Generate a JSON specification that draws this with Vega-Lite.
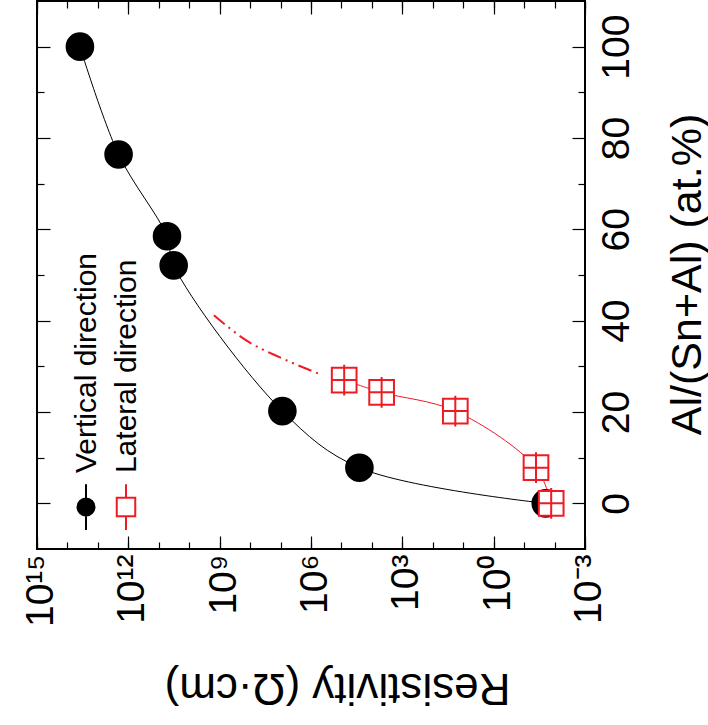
{
  "$schema": "https://vega.github.io/schema/vega-lite/v6.json",
  "autosize": "none",
  "width": 548,
  "height": 548,
  "padding": {"left": 37, "top": 1, "right": 123, "bottom": 176},
  "background": "white",
  "config": {
    "font": "Liberation Sans",
    "view": {"stroke": "black", "strokeWidth": 2},
    "axis": {"grid": false, "domain": false, "ticks": true, "tickColor": "black", "tickWidth": 1.2, "labelColor": "black", "titleColor": "black", "labelFlush": false, "labelOverlap": false},
    "legend": {"labelFont": "Liberation Sans", "labelColor": "black"}
  },
  "datasets": {
    "measured": [
      {"series": "Vertical direction", "al": 100, "rho": 3.89e13},
      {"series": "Vertical direction", "al": 76.4, "rho": 2.09e12},
      {"series": "Vertical direction", "al": 58.5, "rho": 5.37e10},
      {"series": "Vertical direction", "al": 52.1, "rho": 3.24e10},
      {"series": "Vertical direction", "al": 20.2, "rho": 8.71e6},
      {"series": "Vertical direction", "al": 7.8, "rho": 2.57e4},
      {"series": "Vertical direction", "al": 0, "rho": 0.0195},
      {"series": "Lateral direction", "al": 27.0, "rho": 8.13e4},
      {"series": "Lateral direction", "al": 24.3, "rho": 4.79e3},
      {"series": "Lateral direction", "al": 20.2, "rho": 18.2},
      {"series": "Lateral direction", "al": 7.8, "rho": 0.0407},
      {"series": "Lateral direction", "al": 0, "rho": 0.0129}
    ],
    "lateralTrend": [
      {"al": 41.2, "rho": 1.55e9},
      {"al": 35.4, "rho": 1.15e8},
      {"al": 31.9, "rho": 1.0e7},
      {"al": 28.3, "rho": 5.13e5}
    ]
  },
  "resolve": {"axis": {"x": "independent", "y": "independent"}},
  "layer": [
    {
      "data": {"name": "measured"},
      "transform": [{"filter": "datum.series === 'Vertical direction'"}],
      "mark": {"type": "line", "interpolate": "catmull-rom", "color": "black", "strokeWidth": 1},
      "encoding": {
        "x": {
          "field": "rho", "type": "quantitative",
          "scale": {"type": "log", "domain": [0.001, 1e15], "reverse": true, "nice": false},
          "axis": {
            "orient": "bottom",
            "offset": -13,
            "values": [1e15, 1e12, 1e9, 1e6, 1000, 1, 0.001],
            "tickSize": 13,
            "labelExpr": "datum.value > 1e14 ? '10¹⁵' : datum.value > 1e11 ? '10¹²' : datum.value > 1e8 ? '10⁹' : datum.value > 1e5 ? '10⁶' : datum.value > 100 ? '10³' : datum.value > 0.1 ? '10⁰' : '10⁻³'",
            "labelAngle": 270,
            "labelAlign": "right",
            "labelBaseline": "middle",
            "labelFontSize": 39,
            "labelPadding": 5,
            "labelOffset": 3.5,
            "title": "Resistivity (Ω·cm)",
            "titleFontSize": 44,
            "titleFontWeight": "normal",
            "titleAngle": 180,
            "titleAlign": "center",
            "titleBaseline": "alphabetic",
            "titleX": 300,
            "titleY": 137
          }
        },
        "y": {
          "field": "al", "type": "quantitative",
          "scale": {"domain": [-10, 110], "nice": false, "zero": false},
          "axis": {
            "orient": "right",
            "offset": -13,
            "values": [0, 20, 40, 60, 80, 100],
            "tickSize": 13,
            "labelAngle": 270,
            "labelAlign": "center",
            "labelBaseline": "top",
            "labelFontSize": 39,
            "labelPadding": 12,
            "title": "Al/(Sn+Al) (at.%)",
            "titleFontSize": 43,
            "titleFontWeight": "normal",
            "titleAngle": 270,
            "titleAlign": "center",
            "titleBaseline": "alphabetic",
            "titleX": 128,
            "titleY": 273
          }
        },
        "order": {"field": "al", "sort": "descending"}
      }
    },
    {
      "data": {"name": "measured"},
      "transform": [{"filter": "datum.series === 'Lateral direction'"}],
      "mark": {"type": "line", "interpolate": "catmull-rom", "color": "#ed1c24", "strokeWidth": 1},
      "encoding": {
        "x": {"field": "rho", "type": "quantitative", "axis": {"orient": "bottom", "offset": -7, "values": [1e15, 1e14, 1e13, 1e12, 1e11, 1e10, 1e9, 1e8, 1e7, 1e6, 1e5, 10000, 1000, 100, 10, 1, 0.1, 0.01, 0.001], "tickSize": 7, "labels": false, "title": null}},
        "y": {"field": "al", "type": "quantitative", "axis": {"orient": "right", "offset": -7, "values": [10, 30, 50, 70, 90], "tickSize": 7, "labels": false, "title": null}},
        "order": {"field": "al", "sort": "descending"}
      }
    },
    {
      "data": {"name": "lateralTrend"},
      "mark": {"type": "line", "interpolate": "monotone", "color": "#ed1c24", "strokeWidth": 2, "strokeDash": [14, 5, 2, 5, 2, 5]},
      "encoding": {
        "x": {"field": "rho", "type": "quantitative", "axis": {"orient": "top", "offset": -13, "values": [1e15, 1e12, 1e9, 1e6, 1000, 1, 0.001], "tickSize": 13, "labels": false, "title": null}},
        "y": {"field": "al", "type": "quantitative", "axis": {"orient": "left", "offset": -13, "values": [0, 20, 40, 60, 80, 100], "tickSize": 13, "labels": false, "title": null}},
        "order": {"field": "al", "sort": "descending"}
      }
    },
    {
      "data": {"name": "measured"},
      "transform": [{"filter": "datum.series === 'Vertical direction'"}],
      "mark": {"type": "point", "shape": "circle", "size": 707, "strokeWidth": 2, "opacity": 1},
      "encoding": {
        "x": {"field": "rho", "type": "quantitative", "axis": {"orient": "top", "offset": -7, "values": [1e15, 1e14, 1e13, 1e12, 1e11, 1e10, 1e9, 1e8, 1e7, 1e6, 1e5, 10000, 1000, 100, 10, 1, 0.1, 0.01, 0.001], "tickSize": 7, "labels": false, "title": null}},
        "y": {"field": "al", "type": "quantitative", "axis": {"orient": "left", "offset": -7, "values": [10, 30, 50, 70, 90], "tickSize": 7, "labels": false, "title": null}},
        "stroke": {
          "field": "series", "type": "nominal",
          "scale": {"domain": ["Vertical direction", "Lateral direction"], "range": ["black", "#ed1c24"]}
        },
        "fill": {
          "field": "series", "type": "nominal",
          "scale": {"domain": ["Vertical direction", "Lateral direction"], "range": ["black", "white"]},
          "legend": {
            "orient": "none",
            "legendX": 25,
            "legendY": 482,
            "direction": "horizontal",
            "title": null,
            "padding": 0,
            "symbolSize": 2088,
            "symbolStrokeWidth": 2,
            "symbolOffset": 0,
            "columnPadding": -2,
            "labelFontSize": 30,
            "labelLimit": 0,
            "labelOffset": -14,
            "encoding": {
              "symbols": {
                "shape": {
                  "condition": {"test": "datum.value === 'Vertical direction'", "value": "M0,-1V1 M-0.372,0A0.372,0.372 0 1,0 0.372,0A0.372,0.372 0 1,0 -0.372,0Z"},
                  "value": "M-0.405,-0.405H0.405V0.405H-0.405Z M0,-1V-0.405 M0,0.405V1"
                },
                "size": {"value": 2088},
                "strokeWidth": {"value": 2}
              },
              "labels": {
                "angle": {"value": 270},
                "align": {"value": "left"},
                "baseline": {"value": "alphabetic"},
                "dx": {"value": 34}
              }
            }
          }
        }
      }
    },
    {
      "data": {"name": "measured"},
      "transform": [{"filter": "datum.series === 'Lateral direction'"}],
      "mark": {"type": "point", "shape": "M-0.929,-0.929H0.929V0.929H-0.929Z M-0.929,0H0.929 M0,-1.155V1.155", "size": 707, "strokeWidth": 2, "opacity": 1, "filled": false, "fill": "white", "stroke": "#ed1c24"},
      "encoding": {
        "x": {"field": "rho", "type": "quantitative", "axis": null},
        "y": {"field": "al", "type": "quantitative", "axis": null}
      }
    }
  ]
}
